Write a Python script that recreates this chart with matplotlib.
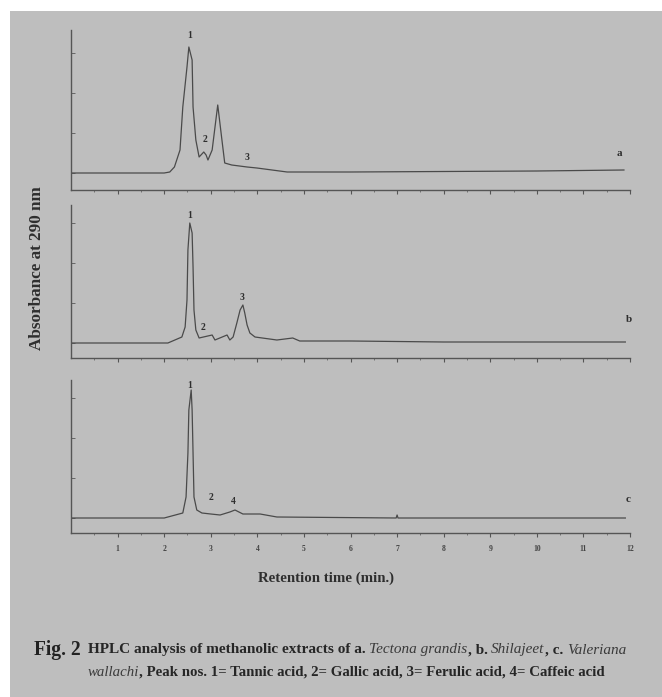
import matplotlib
matplotlib.use("Agg")
import matplotlib.pyplot as plt
from matplotlib.patches import Rectangle

W, H = 662, 697
BG = "#bebebe"
INK = "#4a4a4a"
TXT = "#2e2e2e"
SERIF = ["Liberation Serif", "DejaVu Serif"]

# ---------------- data (retention time in min, relative absorbance) ----------------
time_a = [0.03, 1.0, 2.0, 2.12, 2.22, 2.34, 2.40, 2.49, 2.53, 2.60, 2.62, 2.68, 2.75,
          2.85, 2.90, 2.94, 3.03, 3.15, 3.24, 3.30, 3.45, 3.78, 3.99, 4.64, 6.0, 8.0,
          10.0, 11.87]
abs_a = [0.0, 0.0, 0.0, 0.01, 0.06, 0.23, 0.66, 1.06, 1.26, 1.13, 0.66, 0.33, 0.16,
         0.21, 0.18, 0.13, 0.23, 0.68, 0.33, 0.10, 0.08, 0.06, 0.05, 0.01, 0.01, 0.015,
         0.02, 0.03]

time_b = [0.03, 1.0, 2.08, 2.38, 2.45, 2.49, 2.51, 2.55, 2.60, 2.62, 2.64, 2.68, 2.75,
          3.03, 3.09, 3.35, 3.41, 3.48, 3.56, 3.63, 3.69, 3.73, 3.78, 3.84, 3.95, 4.42,
          4.76, 4.91, 6.0, 8.0, 10.0, 11.9]
abs_b = [0.0, 0.0, 0.0, 0.06, 0.16, 0.43, 0.93, 1.20, 1.10, 0.76, 0.33, 0.13, 0.05,
         0.08, 0.03, 0.08, 0.03, 0.06, 0.20, 0.33, 0.38, 0.30, 0.18, 0.10, 0.06, 0.03,
         0.05, 0.02, 0.02, 0.01, 0.01, 0.01]

time_c = [0.03, 2.0, 2.40, 2.47, 2.51, 2.53, 2.58, 2.60, 2.62, 2.64, 2.70, 2.81, 3.00,
          3.20, 3.41, 3.52, 3.69, 4.06, 4.42, 6.98, 7.0, 7.02, 11.9]
abs_c = [0.0, 0.0, 0.05, 0.21, 0.65, 1.08, 1.28, 1.08, 0.65, 0.21, 0.08, 0.05, 0.04,
         0.03, 0.06, 0.08, 0.04, 0.04, 0.01, 0.0, 0.03, 0.0, 0.0]

peak_labels_a = [("1", 2.55, 1.38), ("2", 2.88, 0.33), ("3", 3.78, 0.16)]
peak_labels_b = [("1", 2.55, 1.28), ("2", 2.83, 0.16), ("3", 3.67, 0.45)]
peak_labels_c = [("1", 2.55, 1.33), ("2", 3.00, 0.20), ("4", 3.48, 0.16)]
panel_tags = [("a", 11.78, 0.20), ("b", 11.97, 0.23), ("c", 11.95, 0.18)]

x_ticks = [1, 2, 3, 4, 5, 6, 7, 8, 9, 10, 11, 12]
x_tick_labels = ["1", "2", "3", "4", "5", "6", "7", "8", "9", "10", "11", "12"]

# ---------------- figure ----------------
fig = plt.figure(figsize=(W / 100, H / 100), dpi=100, facecolor="white")
fig.patches.append(Rectangle((10 / W, 0), 1, 1 - 11 / H, transform=fig.transFigure,
                             facecolor=BG, edgecolor="none", zorder=-10))

left, width = 71 / W, 559 / W
panels = [
    (190, 30, (-0.17, 1.43), time_a, abs_a, peak_labels_a),
    (358, 205, (-0.15, 1.38), time_b, abs_b, peak_labels_b),
    (533, 380, (-0.15, 1.38), time_c, abs_c, peak_labels_c),
]
axes = []
for i, (bot_px, top_px, ylim, t, a, labs) in enumerate(panels):
    ax = fig.add_axes([left, 1 - bot_px / H, width, (bot_px - top_px) / H])
    ax.set_facecolor("none")
    ax.plot(t, a, color=INK, lw=0.9, solid_joinstyle="round")
    ax.set_xlim(0, 12)
    ax.set_ylim(*ylim)
    for s in ("top", "right"):
        ax.spines[s].set_visible(False)
    for s in ("left", "bottom"):
        ax.spines[s].set_color("#555555")
        ax.spines[s].set_linewidth(1.0)
    ax.set_xticks(x_ticks)
    ax.set_xticks([v + 0.5 for v in range(0, 12)], minor=True)
    ax.set_yticks([0.0, 0.4, 0.8, 1.2])
    ax.set_yticklabels([])
    ax.tick_params(axis="x", which="major", direction="out", length=3, width=0.8, color="#555555")
    ax.tick_params(axis="x", which="minor", direction="out", length=1.5, width=0.6, color="#666666")
    ax.tick_params(axis="y", direction="in", length=3, width=0.7, color="#666666")
    if i < 2:
        ax.set_xticklabels([])
    else:
        ax.set_xticklabels(x_tick_labels, fontsize=5.5, family=SERIF, fontweight="bold", color="#444444")
        ax.tick_params(axis="x", which="major", pad=5.5)
    for s, x, y in labs:
        ax.text(x, y, s, ha="center", va="center", fontsize=7, family=SERIF,
                fontweight="bold", color=TXT, clip_on=False)
    tag = panel_tags[i]
    ax.text(tag[1], tag[2], tag[0], ha="center", va="center", fontsize=8, family=SERIF,
            fontweight="bold", color=TXT, clip_on=False)
    axes.append(ax)

renderer = fig.canvas.get_renderer()


def fit_text(x_px, y_px, s, target_len, rotation=0, size=10, **kw):
    t = fig.text(x_px / W, 1 - y_px / H, s, fontsize=size, rotation=rotation,
                 ha="center", va="center", family=SERIF, **kw)
    bb = t.get_window_extent(renderer)
    length = bb.height if rotation else bb.width
    t.set_fontsize(size * target_len / length)
    return t


fit_text(37, 268, "Absorbance at 290 nm", 165, rotation=90, fontweight="bold", color=TXT)
fit_text(326, 578, "Retention time (min.)", 137, fontweight="bold", color=TXT)


def draw_runs(runs, x0, y, target_w, size):
    def place(sz):
        objs = []
        x = x0
        for s, style, gap in runs:
            kw = dict(fontweight="bold") if style == "b" else dict(fontstyle="italic")
            t = fig.text(x / W, 1 - y / H, s, fontsize=sz, ha="left", va="center",
                         family=SERIF, color="#262626" if style == "b" else "#3a3a3a", **kw)
            bb = t.get_window_extent(renderer)
            x += bb.width + (sz * 100 / 72 * 0.25 if gap else 0)
            objs.append(t)
        return objs, x - x0
    objs, w = place(size)
    for o in objs:
        o.remove()
    objs, w = place(size * target_w / w)
    return objs


fit_text(57, 650, "Fig. 2", 47, fontweight="bold", color="#222222")
line1 = [
    ("HPLC analysis of methanolic extracts of a.", "b", True),
    ("Tectona grandis", "i", False),
    (", b.", "b", True),
    ("Shilajeet", "i", False),
    (", c.", "b", True),
    ("Valeriana", "i", False),
]
line2 = [
    ("wallachi", "i", False),
    (", Peak nos. 1= Tannic acid, 2= Gallic acid, 3= Ferulic acid, 4= Caffeic acid", "b", False),
]
draw_runs(line1, 88, 650, 541, 10)
draw_runs(line2, 88, 672, 520, 10)

fig.savefig("out.png", dpi=100, facecolor="white")
